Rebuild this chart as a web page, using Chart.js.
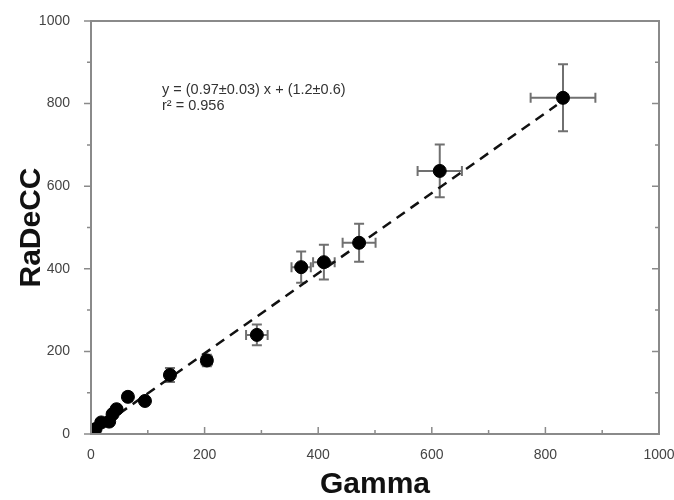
<!DOCTYPE html>
<html>
<head>
<meta charset="utf-8">
<script src="https://cdn.jsdelivr.net/npm/chart.js@4/dist/chart.umd.min.js"></script>
<style>
  html, body { margin: 0; padding: 0; background: #fff; }
  #wrap { width: 674px; height: 500px; }
</style>
</head>
<body>
<div id="wrap"><canvas id="c" width="674" height="500"></canvas></div>
<script>
// Gamma vs RaDeCC activities with uncertainties
const gamma      = [8, 18, 32, 38, 45, 65, 95, 139, 204, 292, 370, 410, 472, 614, 831];
const radecc     = [12, 28, 30, 48, 60, 90, 80, 143, 178, 240, 404, 416, 463, 637, 814];
const gammaErr   = [3, 4, 4, 5, 5, 6, 6, 7, 9, 19, 17, 19, 29, 39, 57];
const radeccErr  = [5, 6, 7, 8, 8, 10, 8, 17, 14, 25, 38, 42, 46, 64, 81];

// Regression line endpoints: y = 0.97 x + 1.2
const fitX = [0, 820];
const fitY = [1.2, 796.6];

const axisTicks = [0, 200, 400, 600, 800, 1000];
const fitLabel = 'y = (0.97\u00b10.03) x + (1.2\u00b10.6)';
const r2Label  = 'r\u00b2 = 0.956';

const axisColor = '#8a8a8a';
const fontFamily = '"Liberation Sans", Arial, sans-serif';

const framePlugin = {
  id: 'frameAndBars',
  beforeDatasetsDraw(chart) {
    const {ctx, scales: {x, y}} = chart;
    ctx.save();
    // error bars
    ctx.strokeStyle = '#707070';
    ctx.lineWidth = 2;
    const cap = 5;
    for (let i = 0; i < gamma.length; i++) {
      const px = x.getPixelForValue(gamma[i]);
      const py = y.getPixelForValue(radecc[i]);
      const x0 = x.getPixelForValue(gamma[i] - gammaErr[i]);
      const x1 = x.getPixelForValue(gamma[i] + gammaErr[i]);
      const y0 = y.getPixelForValue(radecc[i] - radeccErr[i]);
      const y1 = y.getPixelForValue(radecc[i] + radeccErr[i]);
      ctx.beginPath();
      ctx.moveTo(x0, py); ctx.lineTo(x1, py);
      ctx.moveTo(px, y0); ctx.lineTo(px, y1);
      ctx.moveTo(x0, py - cap); ctx.lineTo(x0, py + cap);
      ctx.moveTo(x1, py - cap); ctx.lineTo(x1, py + cap);
      ctx.moveTo(px - cap, y0); ctx.lineTo(px + cap, y0);
      ctx.moveTo(px - cap, y1); ctx.lineTo(px + cap, y1);
      ctx.stroke();
    }
    ctx.restore();
  },
  afterDraw(chart) {
    const {ctx, chartArea: a, scales: {x, y}} = chart;
    ctx.save();
    ctx.strokeStyle = axisColor;
    ctx.lineWidth = 2;
    ctx.strokeRect(a.left, a.top, a.right - a.left, a.bottom - a.top);
    ctx.lineWidth = 1.5;
    ctx.beginPath();
    for (let v = 0; v <= 1000; v += 100) {
      const major = v % 200 === 0;
      // left axis: outward ticks
      const py = y.getPixelForValue(v);
      ctx.moveTo(a.left, py); ctx.lineTo(a.left - (major ? 7 : 4), py);
      // right axis: inward ticks
      ctx.moveTo(a.right, py); ctx.lineTo(a.right - (major ? 7 : 4), py);
      // bottom axis: inward ticks
      const px = x.getPixelForValue(v);
      ctx.moveTo(px, a.bottom); ctx.lineTo(px, a.bottom - (major ? 7 : 4));
    }
    ctx.stroke();
    // regression annotation
    ctx.fillStyle = '#333';
    ctx.font = '14.5px ' + fontFamily;
    ctx.textBaseline = 'middle';
    ctx.fillText(fitLabel, a.left + 71, a.top + 69);
    ctx.fillText(r2Label, a.left + 71, a.top + 85);
    ctx.restore();
  }
};

new Chart(document.getElementById('c'), {
  type: 'scatter',
  data: {
    datasets: [
      {
        type: 'line',
        data: fitX.map((v, i) => ({x: v, y: fitY[i]})),
        borderColor: '#111',
        borderWidth: 2.5,
        borderDash: [10, 7],
        pointRadius: 0,
        fill: false,
        order: 2
      },
      {
        data: gamma.map((v, i) => ({x: v, y: radecc[i]})),
        backgroundColor: '#000',
        borderColor: '#000',
        pointRadius: 6.5,
        pointHoverRadius: 6.5,
        order: 1
      }
    ]
  },
  options: {
    responsive: false,
    animation: false,
    events: [],
    layout: { padding: { top: 21, right: 15, left: 0, bottom: 0 } },
    plugins: { legend: { display: false }, tooltip: { enabled: false } },
    scales: {
      x: {
        type: 'linear', min: 0, max: 1000,
        afterBuildTicks(s) { s.ticks = axisTicks.map(v => ({value: v})); },
        afterFit(s) { s.height = 66; s.paddingRight = 0; s.paddingLeft = 0; },
        grid: { display: false },
        border: { display: false },
        ticks: { color: '#444', padding: 5, callback: v => String(v), font: { family: fontFamily, size: 14 } },
        title: {
          display: true, text: 'Gamma', color: '#111',
          font: { family: fontFamily, size: 30, weight: 'bold', lineHeight: 1 },
          padding: { top: 0, bottom: 0 }
        }
      },
      y: {
        type: 'linear', min: 0, max: 1000,
        afterBuildTicks(s) { s.ticks = axisTicks.map(v => ({value: v})); },
        afterFit(s) { s.width = 91; s.paddingTop = 0; s.paddingBottom = 0; },
        grid: { display: false },
        border: { display: false },
        ticks: { color: '#444', padding: 13, callback: v => String(v), font: { family: fontFamily, size: 14 } },
        title: {
          display: true, text: 'RaDeCC', color: '#111',
          font: { family: fontFamily, size: 30, weight: 'bold', lineHeight: 1 },
          padding: { top: 17, bottom: 0 }
        }
      }
    }
  },
  plugins: [framePlugin]
});
</script>
</body>
</html>
